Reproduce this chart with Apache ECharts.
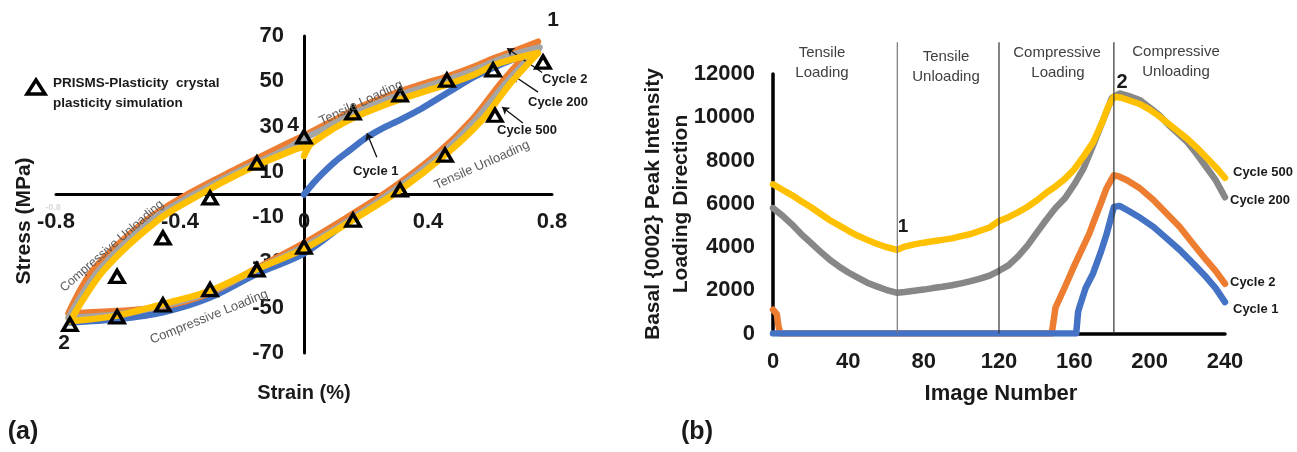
<!DOCTYPE html>
<html><head><meta charset="utf-8">
<script src="https://cdn.jsdelivr.net/npm/echarts@6/dist/echarts.min.js"></script>
<style>html,body{margin:0;padding:0;background:#fff}#c{width:1297px;height:452px}</style>
</head><body><div id="c"></div>
<script>
// ================= Panel (a): stress-strain hysteresis =================
const aStrainTicks = [-0.8, -0.4, 0, 0.4, 0.8];
const aStressTicks = [-70, -50, -30, -10, 10, 30, 50, 70];

const c1Strain = [0,0.03,0.061,0.1,0.148,0.2,0.25,0.31,0.38,0.47,0.55,0.61,0.68,0.755, 0.645,0.55,0.44,0.29,0.145,0, -0.152,-0.303,-0.455,-0.603,-0.755, -0.66,-0.49,-0.355,-0.2,-0.05,0];
const c1Stress = [0,5,9.5,14.5,19.6,25,29,33,38,45.5,52,56,60,63.5, 49,33,18,2,-11.5,-26, -35,-45.5,-52,-55,-56.5, -33.3,-11.2,0,11,20.5,24];

const c2Strain = [0,0.05,0.1,0.17,0.25,0.31,0.4,0.46,0.55,0.61,0.68,0.755, 0.64,0.542,0.43,0.277,0.14,0, -0.152,-0.303,-0.455,-0.603,-0.76, -0.68,-0.507,-0.377,-0.215,-0.07,0];
const c2Stress = [26,29.5,33,38,42.5,45.5,49.5,52,56.5,60,63.5,67.5, 50,33,18,2,-10,-21.5, -32.5,-43.5,-49.5,-51.5,-52.5, -33.3,-11.2,0,11.5,21.5,26];

const c200Strain = [0,0.05,0.1,0.17,0.25,0.31,0.4,0.46,0.55,0.61,0.68,0.76, 0.65,0.555,0.445,0.293,0.15,0, -0.152,-0.303,-0.455,-0.603,-0.76, -0.66,-0.49,-0.355,-0.2,-0.05,0];
const c200Stress = [25,28,31.5,36.5,41,44,48,50.5,55,58.5,62,65, 49,33,18,2,-11,-23, -33,-43,-49,-53,-54.5, -33.3,-11.2,0,11,20.5,25];

const c500Strain = [0,0.02,0.05,0.1,0.17,0.25,0.31,0.4,0.46,0.55,0.61,0.68,0.755, 0.665,0.575,0.46,0.31,0.16,0, -0.152,-0.303,-0.455,-0.603,-0.755, -0.645,-0.47,-0.335,-0.185,-0.035,0];
const c500Stress = [17,22,25,29.5,34.5,39,42,46,48.5,53,57,60,62.5, 49,33,18,2,-11,-24, -32.9,-42.5,-48.4,-53.5,-56, -33.3,-11.2,0,10.8,19.6,21];

// PRISMS-Plasticity simulation points
const simStrain = [0,-0.152,-0.303,-0.455,-0.603,-0.755,-0.603,-0.455,-0.303,-0.152,0,0.158,0.31,0.455,0.616,0.771,0.61,0.461,0.31,0.158];
const simStress = [25.4,13.9,-1.5,-19.2,-36.2,-57.4,-54,-48.8,-42,-33.3,-23.2,-11.3,2,17.4,35,58.5,55,50.5,44,36];

// ================= Panel (b): basal peak intensity =================
const bImageTicks = [0, 40, 80, 120, 160, 200, 240];
const bIntensityTicks = [0, 2000, 4000, 6000, 8000, 10000, 12000];
const sectionBounds = [66, 120, 181];

const b500Img = [0,5,10,15,20,25,30,35,40,45,50,55,60,66,70,75,80,85,90,95,100,105,110,115,120,125,130,135,140,145,150,155,160,165,170,175,178,181,185,190,195,200,205,210,215,220,225,230,235,240];
const b500Val = [6900,6650,6400,6120,5850,5550,5250,5000,4750,4520,4330,4150,4000,3870,4020,4120,4200,4270,4330,4400,4500,4600,4750,4900,5200,5380,5600,5850,6150,6500,6800,7150,7600,8200,8850,9800,10500,10950,10900,10750,10600,10350,10050,9700,9350,9000,8600,8150,7700,7200];

const b200Img = [0,5,10,15,20,25,30,35,40,45,50,55,60,66,70,75,80,85,90,95,100,105,110,115,120,125,130,135,140,145,150,155,160,165,170,175,180,184,190,195,200,205,210,215,220,225,230,235,240];
const b200Val = [5800,5450,5050,4600,4200,3800,3420,3100,2820,2580,2350,2180,2020,1880,1920,1980,2030,2100,2160,2230,2320,2420,2540,2680,2900,3150,3550,4050,4650,5250,5800,6250,6900,7650,8700,9800,10900,11100,10950,10780,10450,10100,9650,9250,8850,8300,7700,7100,6300];

const b2Img = [0,1,2,3,4,148,149,150,155,159,163,168,170,174,177,181,184,188,195,202,209,216,223,230,235,240];
const b2Val = [1100,1100,900,300,0,0,0,1200,2150,2950,3700,4630,5100,6000,6700,7320,7250,7090,6700,6170,5550,4920,4150,3400,2900,2300];

const b1Img = [0,161,162,163,166,170,174,177,181,184,188,195,202,209,216,223,230,235,240];
const b1Val = [0,0,1000,1300,2100,2790,3750,4550,5850,5900,5710,5350,4930,4400,3860,3250,2610,2100,1450];

// ================= helpers / styles =================
const F = '"Liberation Sans", Arial, sans-serif';
const zip = (xs, ys) => xs.map((x, i) => [x, ys[i]]);
const COL = { c1: '#4472C4', c2: '#ED7D31', c200a: '#A5A5A5', c200b: '#878787', c500: '#FFC000' };

function loopSeries(name, xs, ys, color, z) {
  return { name, type: 'line', xAxisIndex: 0, yAxisIndex: 0, data: zip(xs, ys), smooth: 0.3,
    showSymbol: false, symbol: 'none', z, silent: true,
    lineStyle: { color, width: 6.5, cap: 'round', join: 'round' } };
}
function intSeries(name, xs, ys, color, z) {
  return { name, type: 'line', xAxisIndex: 1, yAxisIndex: 1, data: zip(xs, ys), smooth: false,
    showSymbol: false, symbol: 'none', z, silent: true,
    lineStyle: { color, width: 6.5, cap: 'round', join: 'round' } };
}

// arrows from cycle labels to curves (data space): [fromStrain, fromStress, toStrain, toStress]
const arrowsA = [[0.768, 53.9, 0.655, 64.6], [0.755, 45.2, 0.674, 52.7], [0.706, 31.6, 0.639, 38.6], [0.235, 16.5, 0.203, 27.1]];

function txt(text, x, y, o) {
  o = o || {};
  return { type: 'text', x, y, rotation: o.rot || 0, z: 100, silent: true,
    style: { text, fill: o.color || '#1a1a1a', fontFamily: F, fontSize: o.size || 13,
      fontWeight: o.weight || 'bold', textAlign: o.align || 'center', align: o.align || 'center',
      textVerticalAlign: 'middle', verticalAlign: 'middle' } };
}
const deg = d => d * Math.PI / 180;

const graphics = [
  // panel (a)
  txt('Stress (MPa)', 24, 221, { size: 21, rot: Math.PI / 2 }),
  txt('Strain (%)', 304, 393, { size: 20 }),
  { type: 'polygon', z: 100, silent: true, shape: { points: [[36, 80], [45, 94], [27, 94]] },
    style: { fill: '#fff', stroke: '#000', lineWidth: 3.5, lineJoin: 'miter' } },
  txt('PRISMS-Plasticity  crystal', 53, 83, { size: 13.5, align: 'left' }),
  txt('plasticity simulation', 53, 103, { size: 13.5, align: 'left' }),
  txt('1', 553, 20, { size: 21 }),
  txt('2', 64, 343, { size: 21 }),
  txt('4', 293, 125, { size: 21 }),
  txt('Cycle 2', 542, 79, { size: 13, align: 'left' }),
  txt('Cycle 200', 528, 102, { size: 13, align: 'left' }),
  txt('Cycle 500', 497, 130, { size: 13, align: 'left' }),
  txt('Cycle 1', 353, 171, { size: 13, align: 'left' }),
  txt('Tensile Loading', 361, 103, { size: 13, weight: 'normal', color: '#595959', rot: deg(25) }),
  txt('Tensile Unloading', 482, 165, { size: 13, weight: 'normal', color: '#595959', rot: deg(24) }),
  txt('Compressive Unloading', 112, 246, { size: 12.5, weight: 'normal', color: '#595959', rot: deg(41) }),
  txt('Compressive Loading', 209, 317, { size: 13, weight: 'normal', color: '#595959', rot: deg(22) }),
  txt('-0.8', 53, 208, { size: 9, color: '#d8d8d8' }),
  txt('(a)', 23, 432, { size: 25 }),
  // panel (b)
  txt('Basal {0002} Peak Intensity', 653, 204, { size: 21, rot: Math.PI / 2 }),
  txt('Loading Direction', 681, 204, { size: 21, rot: Math.PI / 2 }),
  txt('Image Number', 1001, 394, { size: 22 }),
  txt('Tensile', 822, 53, { size: 15, weight: 'normal', color: '#404040' }),
  txt('Loading', 822, 73, { size: 15, weight: 'normal', color: '#404040' }),
  txt('Tensile', 946, 57, { size: 15, weight: 'normal', color: '#404040' }),
  txt('Unloading', 946, 77, { size: 15, weight: 'normal', color: '#404040' }),
  txt('Compressive', 1057, 53, { size: 15, weight: 'normal', color: '#404040' }),
  txt('Loading', 1058, 73, { size: 15, weight: 'normal', color: '#404040' }),
  txt('Compressive', 1176, 52, { size: 15, weight: 'normal', color: '#404040' }),
  txt('Unloading', 1176, 72, { size: 15, weight: 'normal', color: '#404040' }),
  txt('1', 903, 227, { size: 19 }),
  txt('2', 1122, 82, { size: 20 }),
  txt('Cycle 500', 1233, 172, { size: 13, align: 'left' }),
  txt('Cycle 200', 1230, 200, { size: 13, align: 'left' }),
  txt('Cycle 2', 1230, 282, { size: 13, align: 'left' }),
  txt('Cycle 1', 1233, 309, { size: 13, align: 'left' }),
  txt('(b)', 697, 432, { size: 25 })
];

const axisLbl = (margin) => ({ fontFamily: F, fontWeight: 'bold', fontSize: 22, color: '#1a1a1a', margin,
  formatter: v => String(v) });

// grid geometry (layout)
const gA = { left: 56, top: 36, width: 496, height: 317 };
const gB = { left: 773, top: 74, width: 452, height: 259.5 };
// panel (a) axes cross at the origin: shift each axis (with its labels) onto the zero line
const aXmin = aStrainTicks[0], aXmax = aStrainTicks[aStrainTicks.length - 1];
const aYmin = aStressTicks[0], aYmax = aStressTicks[aStressTicks.length - 1];
const yAxisShift = -gA.width * (0 - aXmin) / (aXmax - aXmin);
const xAxisShift = -gA.height * (0 - aYmin) / (aYmax - aYmin);

const option = {
  animation: false,
  backgroundColor: '#fff',
  grid: [gA, gB],
  xAxis: [
    { type: 'value', gridIndex: 0, min: aXmin, max: aXmax, interval: aStrainTicks[1] - aStrainTicks[0],
      position: 'bottom', offset: xAxisShift,
      axisLine: { onZero: false, lineStyle: { color: '#000', width: 3 } }, axisTick: { show: false },
      splitLine: { show: false }, axisLabel: axisLbl(16) },
    { type: 'value', gridIndex: 1, min: bImageTicks[0], max: bImageTicks[bImageTicks.length - 1],
      interval: bImageTicks[1] - bImageTicks[0],
      axisLine: { onZero: false, lineStyle: { color: '#000', width: 3.5 } }, axisTick: { show: false },
      splitLine: { show: false }, axisLabel: axisLbl(17) }
  ],
  yAxis: [
    { type: 'value', gridIndex: 0, min: aYmin, max: aYmax, interval: aStressTicks[1] - aStressTicks[0],
      position: 'left', offset: yAxisShift,
      axisLine: { onZero: false, lineStyle: { color: '#000', width: 3 } }, axisTick: { show: false },
      splitLine: { show: false }, axisLabel: axisLbl(20) },
    { type: 'value', gridIndex: 1, min: bIntensityTicks[0], max: bIntensityTicks[bIntensityTicks.length - 1],
      interval: bIntensityTicks[1] - bIntensityTicks[0],
      axisLine: { onZero: false, lineStyle: { color: '#000', width: 3.5 } }, axisTick: { show: false },
      splitLine: { show: false }, axisLabel: axisLbl(18) }
  ],
  series: [
    loopSeries('Cycle 1', c1Strain, c1Stress, COL.c1, 2),
    loopSeries('Cycle 2', c2Strain, c2Stress, COL.c2, 3),
    loopSeries('Cycle 200', c200Strain, c200Stress, COL.c200a, 4),
    loopSeries('Cycle 500', c500Strain, c500Stress, COL.c500, 5),
    { name: 'PRISMS-Plasticity crystal plasticity simulation', type: 'scatter', xAxisIndex: 0, yAxisIndex: 0,
      data: zip(simStrain, simStress), symbol: 'triangle', symbolSize: [14, 12], z: 10, silent: true,
      itemStyle: { color: 'rgba(255,255,255,0)', borderColor: '#000', borderWidth: 3.5, opacity: 1 },
      markLine: { silent: true, symbol: ['none', 'arrow'], symbolSize: 7, animation: false,
        label: { show: false }, lineStyle: { color: '#111', width: 1.3, type: 'solid' },
        data: arrowsA.map(a => [{ coord: [a[0], a[1]] }, { coord: [a[2], a[3]] }]) } },
    intSeries('Cycle 2 b', b2Img, b2Val, COL.c2, 2),
    intSeries('Cycle 1 b', b1Img, b1Val, COL.c1, 3),
    intSeries('Cycle 200 b', b200Img, b200Val, COL.c200b, 4),
    intSeries('Cycle 500 b', b500Img, b500Val, COL.c500, 5)
  ].concat(sectionBounds.map((s, i) => ({
    name: 'bound' + i, type: 'line', xAxisIndex: 1, yAxisIndex: 1, clip: false, silent: true,
    data: [[s, 0], [s, 13470]], symbol: 'none', z: 8,
    lineStyle: { color: i === 0 ? '#777' : '#333', width: 1.2 }
  }))),
  graphic: graphics
};

const chart = echarts.init(document.getElementById('c'));
chart.setOption(option);
</script></body></html>
